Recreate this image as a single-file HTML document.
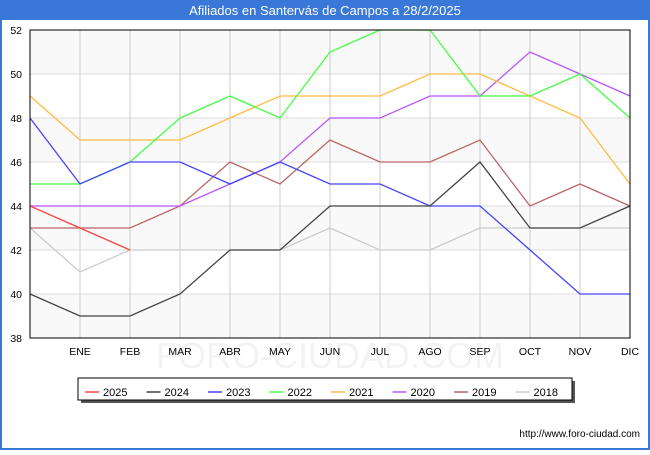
<!DOCTYPE html>
<html><head><meta charset="utf-8"><style>
body{margin:0;width:650px;height:450px;overflow:hidden;font-family:"Liberation Sans",sans-serif;}
</style></head><body>
<svg width="650" height="450" xmlns="http://www.w3.org/2000/svg" id="svg">
<rect x="0" y="0" width="650" height="450" fill="#3a78d8"/>
<rect x="2" y="20" width="646" height="428" fill="#ffffff"/>
<text x="325" y="15" text-anchor="middle" font-size="13" fill="#ffffff">Afiliados en Santervás de Campos a 28/2/2025</text>
<text x="330" y="368" text-anchor="middle" font-size="36" fill="#f3f3f3">FORO-CIUDAD.COM</text>
<g id="plot"></g>
<g id="legend"></g>
<text x="640" y="437" text-anchor="end" font-size="10" fill="#000">http://www.foro-ciudad.com</text>
</svg>
<script>
const months=["","ENE","FEB","MAR","ABR","MAY","JUN","JUL","AGO","SEP","OCT","NOV","DIC"];
const yTicks=[38,40,42,44,46,48,50,52];
const seriesNames=["2025","2024","2023","2022","2021","2020","2019","2018"];
const seriesColors=["#ff4444","#444444","#4444ff","#44ff44","#ffbb44","#bb55ff","#bb6666","#cccccc"];
const s2025=[44,43,42];
const s2024=[40,39,39,40,42,42,44,44,44,46,43,43,44];
const s2023=[48,45,46,46,45,46,45,45,44,44,42,40,40];
const s2022=[45,45,46,48,49,48,51,52,52,49,49,50,48];
const s2021=[49,47,47,47,48,49,49,49,50,50,49,48,45];
const s2020=[44,44,44,44,45,46,48,48,49,49,51,50,49];
const s2019=[43,43,43,44,46,45,47,46,46,47,44,45,44];
const s2018=[43,41,42,42,42,42,43,42,42,43,43,43,43];
const allSeries=[s2025,s2024,s2023,s2022,s2021,s2020,s2019,s2018];
const L=30,R=630,T=30,B=338,yMin=38,yMax=52;
const xs=i=>L+i*(R-L)/12;
const ys=v=>B-(v-yMin)/(yMax-yMin)*(B-T);
const NS="http://www.w3.org/2000/svg";
const plot=document.getElementById('plot');
function mk(tag,attrs,parent){const e=document.createElementNS(NS,tag);for(const k in attrs)e.setAttribute(k,attrs[k]);parent.appendChild(e);return e;}
for(let i=0;i<yTicks.length-1;i++){
  if(i%2===0){const b=mk('rect',{x:L,y:ys(yTicks[i+1]),width:R-L,height:ys(yTicks[i])-ys(yTicks[i+1]),fill:'#f8f8f8','fill-opacity':0.9},plot);
  
  }
}
yTicks.forEach(v=>{
  const g=mk('line',{x1:L,x2:R,y1:ys(v),y2:ys(v),stroke:'#dddddd'},plot);
  
  
  const t=mk('text',{x:L-8,y:ys(v)+4,'text-anchor':'end','font-size':10.5,fill:'#000'},plot);t.textContent=v;
  
  
});
months.forEach((m,i)=>{
  if(i===0)return;
  const g=mk('line',{x1:xs(i),x2:xs(i),y1:T,y2:B,stroke:'#cccccc'},plot);
  
  
  const t=mk('text',{x:xs(i),y:B+17,'text-anchor':'middle','font-size':10.5,fill:'#000'},plot);t.textContent=m;
  
  
});
for(let k=allSeries.length-1;k>=0;k--){
  const d=allSeries[k].map((v,i)=>(i?'L':'M')+xs(i)+','+ys(v)).join(' ');
  const p=mk('path',{d:d,fill:'none',stroke:seriesColors[k],'stroke-width':1.3},plot);
  
  
}
const fr=mk('rect',{x:L,y:T,width:R-L,height:B-T,fill:'none',stroke:'#000'},plot);


const lg=document.getElementById('legend');
const sh=mk('rect',{x:81,y:381,width:494,height:22,fill:'#555'},lg);
const box=mk('rect',{x:78,y:378,width:494,height:22,fill:'#fff',stroke:'#000'},lg);


seriesNames.forEach((n,k)=>{
  const x0=85+k*61.5;
  const ln=mk('line',{x1:x0,x2:x0+14,y1:392,y2:392,stroke:seriesColors[k],'stroke-width':1.5},lg);
  
  
  const t=mk('text',{x:x0+18,y:396,'font-size':11,fill:'#000'},lg);t.textContent=n;
  
  
});
</script>
</body></html>
